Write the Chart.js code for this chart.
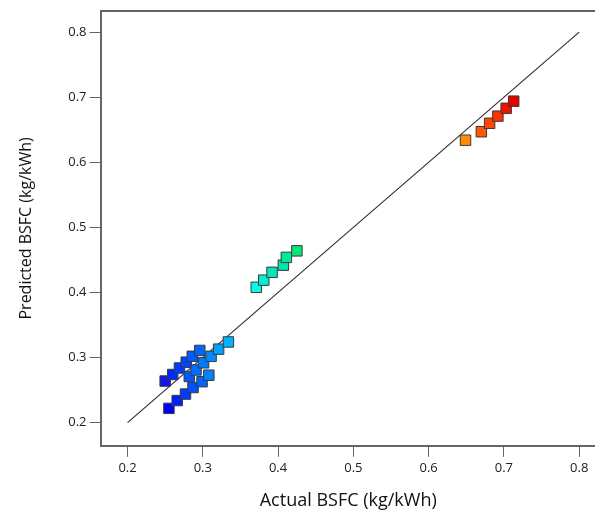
<!DOCTYPE html>
<html>
<head>
<meta charset="utf-8">
<script src="https://cdn.jsdelivr.net/npm/chart.js@4/dist/chart.umd.min.js"></script>
<style>
  html, body { margin: 0; padding: 0; background: #fff; }
  #wrap { width: 595px; height: 514px; }
</style>
</head>
<body>
<div id="wrap"><canvas id="chartBsfc"></canvas></div>
<script>
// ── Data ──
const actual = [
  0.250, 0.260, 0.269, 0.278, 0.286, 0.296,
  0.255, 0.266, 0.277, 0.287, 0.299, 0.308,
  0.282, 0.291, 0.301, 0.311, 0.321, 0.334,
  0.371, 0.381, 0.392, 0.407, 0.411, 0.425,
  0.649, 0.670, 0.681, 0.692, 0.703, 0.713
];
const predicted = [
  0.264, 0.274, 0.284, 0.293, 0.302, 0.311,
  0.222, 0.234, 0.244, 0.254, 0.263, 0.273,
  0.271, 0.281, 0.292, 0.302, 0.313, 0.324,
  0.408, 0.419, 0.431, 0.442, 0.454, 0.464,
  0.634, 0.647, 0.660, 0.671, 0.683, 0.694
];
const pointColors = [
  '#1414f0', '#0028ff', '#003cff', '#0046ff', '#005aff', '#0064ff',
  '#0000ff', '#001eff', '#003cff', '#0050ff', '#0064ff', '#0082ff',
  '#005aff', '#006eff', '#0078ff', '#008cff', '#00a0ff', '#00b4ff',
  '#00ffe6', '#00f0d2', '#00e6be', '#00e6aa', '#00eb96', '#00e678',
  '#ff8c00', '#ff5a00', '#ff4600', '#ff3200', '#f01400', '#e60000'
];
const parityLine = [0.2, 0.8];
const tickValues = [0.2, 0.3, 0.4, 0.5, 0.6, 0.7, 0.8];

const xRange = { min: 0.1654, max: 0.821 };
const yRange = { min: 0.1645, max: 0.8325 };

const FONT = "'Open Sans', sans-serif";

// top frame line (the reference box has a top edge)
const frameTop = {
  id: 'frameTop',
  afterDraw(chart) {
    const { ctx, chartArea: a } = chart;
    ctx.save();
    ctx.strokeStyle = '#666';
    ctx.lineWidth = 2;
    ctx.beginPath();
    ctx.moveTo(a.left - 1, a.top);
    ctx.lineTo(a.right, a.top);
    ctx.stroke();
    ctx.restore();
  }
};

function pickTicks(axis) {
  axis.ticks = tickValues.map(v => ({ value: v }));
}

new Chart(document.getElementById('chartBsfc'), {
  type: 'scatter',
  data: {
    datasets: [
      {
        label: 'BSFC',
        data: actual.map((a, i) => ({ x: a, y: predicted[i] })),
        pointStyle: 'rect',
        pointRadius: 7.4,
        pointHoverRadius: 7.4,
        backgroundColor: pointColors,
        borderColor: '#3a3a3a',
        borderWidth: 1,
        order: 1,
      },
      {
        type: 'line',
        label: 'Parity',
        data: parityLine.map(v => ({ x: v, y: v })),
        borderColor: '#2a2a2a',
        borderWidth: 1.1,
        pointRadius: 0,
        fill: false,
        order: 2,
      },
    ],
  },
  plugins: [frameTop],
  options: {
    responsive: true,
    maintainAspectRatio: false,
    animation: false,
    layout: { autoPadding: false, padding: { left: 17, right: 0, top: 11, bottom: 2 } },
    plugins: { legend: { display: false }, tooltip: { enabled: false } },
    scales: {
      x: {
        type: 'linear',
        min: xRange.min,
        max: xRange.max,
        afterBuildTicks: pickTicks,
        afterFit: s => { s.paddingRight = 0; },
        grid: { drawOnChartArea: false, tickLength: 11, color: '#666', tickWidth: 1 },
        border: { color: '#666', width: 2 },
        ticks: { font: { family: FONT, size: 13 }, color: '#222', padding: 4, maxRotation: 0, callback: v => v.toFixed(1) },
        title: { display: true, text: 'Actual BSFC (kg/kWh)', font: { family: FONT, size: 18 }, color: '#111', padding: { top: 10, bottom: 0 } },
      },
      y: {
        type: 'linear',
        min: yRange.min,
        max: yRange.max,
        afterBuildTicks: pickTicks,
        grid: { drawOnChartArea: false, tickLength: 12, color: '#666', tickWidth: 1 },
        border: { color: '#666', width: 2 },
        ticks: { font: { family: FONT, size: 13 }, color: '#222', padding: 3, callback: v => v.toFixed(1) },
        title: { display: true, text: 'Predicted BSFC (kg/kWh)', font: { family: FONT, size: 16 }, color: '#111', padding: { top: 0, bottom: 29 } },
      },
    },
  },
});
</script>
</body>
</html>
